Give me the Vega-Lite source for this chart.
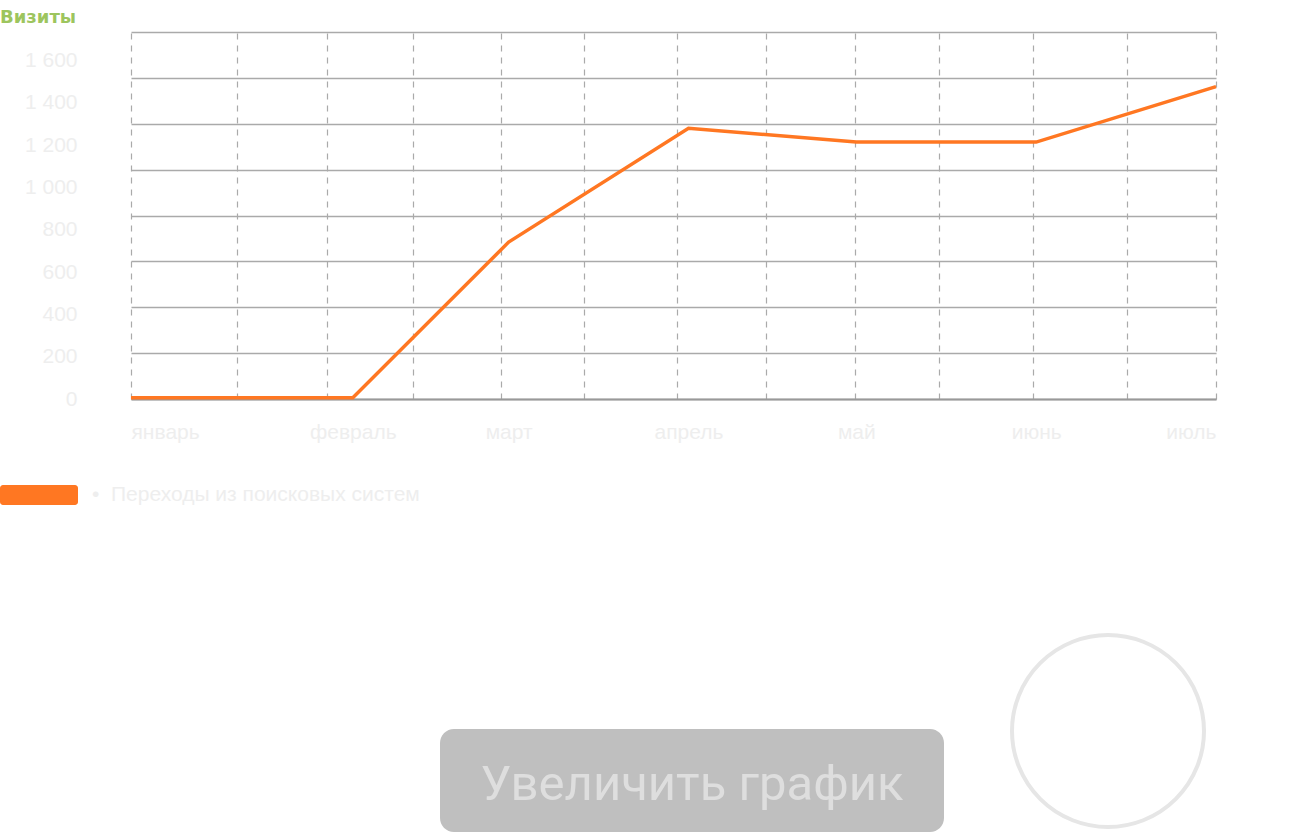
{
  "$schema": "https://vega.github.io/schema/vega-lite/v6.json",
  "padding": {"left": 0, "top": 9, "right": 0, "bottom": 0},
  "bounds": "flush",
  "spacing": 330,
  "vconcat": [
    {
      "width": 1085,
      "height": 367,
      "title": {"text": "Визиты", "anchor": "start", "frame": "group", "dx": -131, "offset": -9, "baseline": "alphabetic", "fontSize": 18, "fontWeight": "bold", "color": "#9dc55e", "font": "DejaVu Sans"},
      "data": {"values": [
        {"date": "2015-01-01T00:00", "visits": 5, "series": "Переходы из поисковых систем"},
        {"date": "2015-02-07T00:00", "visits": 5, "series": "Переходы из поисковых систем"},
        {"date": "2015-03-05T00:00", "visits": 684, "series": "Переходы из поисковых систем"},
        {"date": "2015-04-04T00:00", "visits": 1180, "series": "Переходы из поисковых систем"},
        {"date": "2015-05-02T00:00", "visits": 1120, "series": "Переходы из поисковых систем"},
        {"date": "2015-06-01T00:00", "visits": 1120, "series": "Переходы из поисковых систем"},
        {"date": "2015-07-01T00:00", "visits": 1362, "series": "Переходы из поисковых систем"}
      ]},
      "layer": [
        {
          "mark": {"type": "point", "opacity": 0},
          "encoding": {
            "x": {"field": "date", "type": "temporal",
              "scale": {"domain": [{"year": 2015, "month": 1, "date": 1}, {"year": 2015, "month": 7, "date": 1}], "nice": false},
              "axis": {"orient": "top", "title": null, "labels": false, "ticks": false, "domain": false, "minExtent": 0, "maxExtent": 0, "grid": true, "gridDash": [6, 6], "gridColor": "#aaaaaa", "gridWidth": 1.2,
                "values": [
                  {"year": 2015, "month": 1, "date": 1},
                  {"year": 2015, "month": 1, "date": 18, "hours": 18},
                  {"year": 2015, "month": 2, "date": 2, "hours": 16},
                  {"year": 2015, "month": 2, "date": 17, "hours": 1},
                  {"year": 2015, "month": 3, "date": 3, "hours": 17},
                  {"year": 2015, "month": 3, "date": 17, "hours": 14},
                  {"year": 2015, "month": 4, "date": 2, "hours": 3},
                  {"year": 2015, "month": 4, "date": 17},
                  {"year": 2015, "month": 5, "date": 1, "hours": 20},
                  {"year": 2015, "month": 5, "date": 15, "hours": 19},
                  {"year": 2015, "month": 5, "date": 31, "hours": 10},
                  {"year": 2015, "month": 6, "date": 16, "hours": 4},
                  {"year": 2015, "month": 7, "date": 1}
                ]}},
            "y": {"field": "visits", "type": "quantitative",
              "scale": {"domain": [0, 1600], "nice": false},
              "axis": {"orient": "right", "title": null, "labels": false, "ticks": false, "domain": false, "minExtent": 0, "maxExtent": 0, "grid": true, "gridColor": "#aaaaaa", "gridWidth": 1.5,
                "values": [0, 200, 400, 600, 800, 1000, 1200, 1400, 1600]}}
          }
        },
        {
          "mark": {"type": "line", "strokeWidth": 3.5},
          "encoding": {
            "x": {"field": "date", "type": "temporal",
              "axis": {"orient": "bottom", "title": null, "grid": false, "ticks": false, "domain": true, "domainColor": "#999999", "domainWidth": 2,
                "labelFlush": true, "labelOverlap": false, "labelPadding": 22,
                "labelExpr": "['январь','февраль','март','апрель','май','июнь','июль'][month(datum.value)]",
                "values": [
                  {"year": 2015, "month": 1, "date": 1},
                  {"year": 2015, "month": 2, "date": 7},
                  {"year": 2015, "month": 3, "date": 5},
                  {"year": 2015, "month": 4, "date": 4},
                  {"year": 2015, "month": 5, "date": 2},
                  {"year": 2015, "month": 6, "date": 1},
                  {"year": 2015, "month": 7, "date": 1}
                ]}},
            "y": {"field": "visits", "type": "quantitative",
              "axis": {"orient": "left", "title": null, "grid": false, "ticks": false, "domain": false, "labelPadding": 54, "format": ",d",
                "labelOffset": {"expr": "datum.value * 0.01775"},
                "values": [0, 200, 400, 600, 800, 1000, 1200, 1400, 1600]}},
            "color": {"field": "series", "type": "nominal", "scale": {"range": ["#ff7722"]},
              "legend": {"orient": "none", "legendX": -131, "legendY": 424, "title": null, "padding": 0,
                "symbolType": "M-0.923,-0.256L0.923,-0.256A0.077,0.077 0 0 1 1,-0.179L1,0.179A0.077,0.077 0 0 1 0.923,0.256L-0.923,0.256A0.077,0.077 0 0 1 -1,0.179L-1,-0.179A0.077,0.077 0 0 1 -0.923,-0.256Z",
                "symbolSize": 6084, "symbolFillColor": "#ff7722", "symbolStrokeWidth": 0, "symbolOpacity": 1,
                "labelFont": "Liberation Sans", "labelFontSize": 21, "labelColor": "#eeeeee", "labelLimit": 600, "labelOffset": 14,
                "labelExpr": "'•\u00a0\u00a0' + datum.label"}}
          }
        }
      ],
      "resolve": {"axis": {"x": "independent", "y": "independent"}}
    },
    {
      "bounds": "flush",
      "spacing": 20,
      "hconcat": [
        {"width": 289, "height": 103, "data": {"values": [{}]}, "mark": {"type": "rect", "opacity": 0}},
        {"width": 504, "height": 103, "data": {"values": [{"label": "Увеличить график"}]},
          "layer": [
            {"mark": {"type": "rect", "color": "#bfbfbf", "cornerRadius": 14}},
            {"mark": {"type": "text", "font": "Roboto", "fontSize": 49, "dy": 4, "color": "#dedede"}, "encoding": {"text": {"field": "label", "type": "nominal"}}}
          ]},
        {"width": 288, "height": 4, "data": {"values": [{}]}, "mark": {"type": "point", "shape": "circle", "size": 36864, "filled": false, "stroke": "#e6e6e6", "strokeWidth": 4, "opacity": 1}}
      ]
    }
  ],
  "config": {
    "view": {"stroke": null},
    "font": "Liberation Sans",
    "axis": {"labelFont": "Liberation Sans", "labelFontSize": 21, "labelColor": "#eeeeee"},
    "locale": {"number": {"decimal": ",", "thousands": " ", "grouping": [3], "currency": ["", " ₽"]}}
  }
}
